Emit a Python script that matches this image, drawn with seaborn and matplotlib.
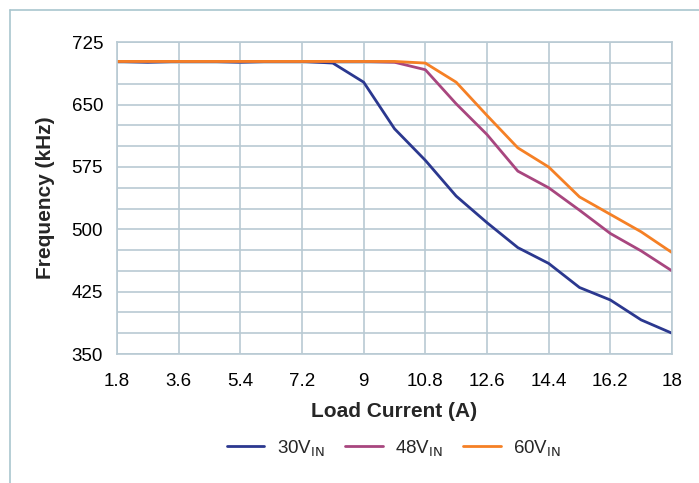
import numpy as np
import pandas as pd
import seaborn as sns
import matplotlib.pyplot as plt
from matplotlib.lines import Line2D

# load current steps (A)
current = [1.8, 2.7, 3.6, 4.5, 5.4, 6.3, 7.2, 8.1, 9.0, 9.9, 10.8,
           11.7, 12.6, 13.5, 14.4, 15.3, 16.2, 17.1, 18.0]

# switching frequency (kHz) per input voltage
f_30v = [702, 701, 702, 702, 701, 702, 702, 700, 677, 621, 583,
         540, 508, 478, 459, 430, 415, 391, 375]
f_48v = [702, 702, 702, 702, 702, 702, 702, 702, 702, 701, 692,
         651, 614, 570, 550, 523, 495, 474, 450]
f_60v = [702, 702, 702, 702, 702, 702, 702, 702, 702, 702, 700,
         677, 637, 598, 575, 539, 518, 497, 472]

labels = ["30V$_{\\mathrm{IN}}$", "48V$_{\\mathrm{IN}}$", "60V$_{\\mathrm{IN}}$"]
colors = ["#2b388f", "#a8467f", "#f58025"]

df = pd.DataFrame({
    "Load Current (A)": current * 3,
    "Frequency (kHz)": f_30v + f_48v + f_60v,
    "Vin": [labels[0]] * len(current) + [labels[1]] * len(current) + [labels[2]] * len(current),
})

sns.set_style("white")
plt.rcParams["font.family"] = ["Liberation Sans", "DejaVu Sans"]
plt.rcParams["mathtext.default"] = "regular"

grid_c = "#b9cad3"

fig = plt.figure(figsize=(6.99, 4.83), dpi=100)
ax = fig.add_axes([117 / 699, 1 - 354 / 483, 555 / 699, (354 - 42.3) / 483])

sns.lineplot(data=df, x="Load Current (A)", y="Frequency (kHz)", hue="Vin",
             palette=colors, linewidth=2.0, ax=ax, legend=False)

ax.set_xlim(1.8, 18)
ax.set_ylim(350, 725)
xt = np.arange(1.8, 18.01, 1.8)
ax.set_xticks(xt)
ax.set_xticklabels([f"{v:g}" for v in np.round(xt, 1)])
ax.set_yticks(np.arange(350, 726, 75))
ax.set_yticks(np.arange(350, 726, 25), minor=True)
ax.grid(True, which="major", color=grid_c, linewidth=1.2)
ax.grid(True, which="minor", axis="y", color=grid_c, linewidth=1.2)
ax.set_axisbelow(True)

for s in ax.spines.values():
    s.set_color(grid_c)
    s.set_linewidth(1.2)

ax.tick_params(axis="both", which="major", length=5, width=1.2, color=grid_c,
               labelsize=13.5, labelcolor="black", pad=5)
ax.tick_params(axis="y", which="minor", length=0)
ax.tick_params(axis="x", pad=9)
ax.set_xlabel("Load Current (A)", fontsize=15, fontweight="bold", labelpad=8)
ax.set_ylabel("Frequency (kHz)", fontsize=15, fontweight="bold", labelpad=12)

handles = [Line2D([], [], color=c, linewidth=2.0) for c in colors]
fig.legend(handles, labels, loc="center", bbox_to_anchor=(394 / 699, 1 - 448 / 483),
           ncol=3, frameon=False, fontsize=13.5, handlelength=2.0, columnspacing=1.1,
           handletextpad=0.65)

# outer frame (only left and top visible in the crop)
fig.add_artist(Line2D([10 / 699, 10 / 699], [0, 1 - 10 / 483], color="#a9c6ce", linewidth=1.2))
fig.add_artist(Line2D([10 / 699, 1], [1 - 10 / 483, 1 - 10 / 483], color="#a9c6ce", linewidth=1.2))

fig.savefig("out.png", dpi=100)
